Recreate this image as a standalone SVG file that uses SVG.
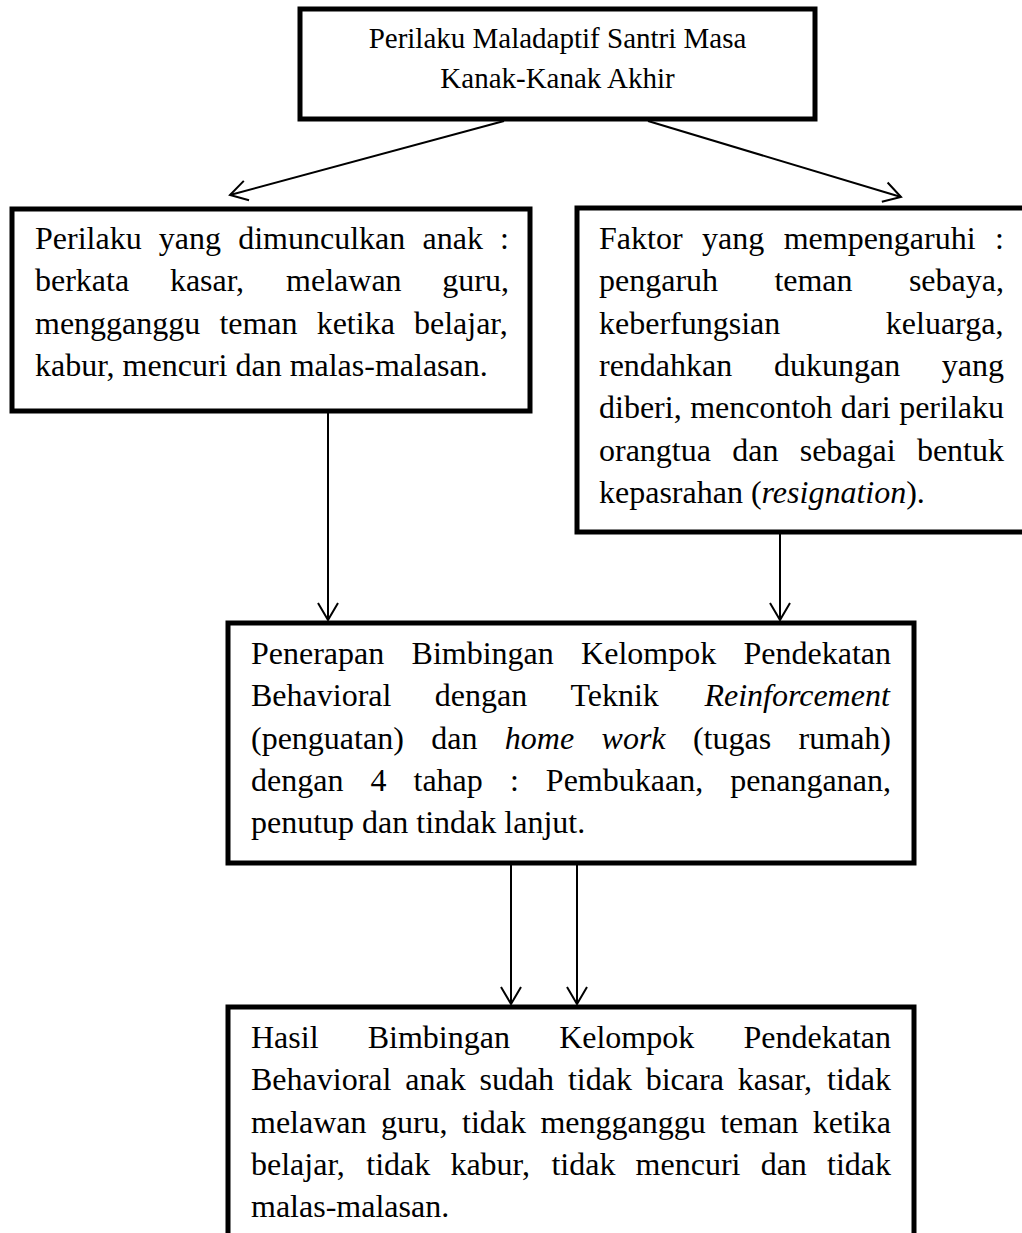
<svg xmlns="http://www.w3.org/2000/svg" width="1022" height="1233" viewBox="0 0 1022 1233">
<style>
.box{fill:#fff;stroke:#000;stroke-width:5}
.t{font-family:"Liberation Serif","Times New Roman",serif;font-size:32px;fill:#000}
.tt{font-family:"Liberation Serif","Times New Roman",serif;font-size:29px;fill:#000}
.i{font-style:italic}
.c{fill:none;stroke:#000;stroke-width:2}
</style>
<defs>
<marker id="ah" viewBox="-20 -12 24 24" markerWidth="24" markerHeight="24" refX="0" refY="0" markerUnits="userSpaceOnUse" orient="auto" overflow="visible">
<path d="M-17,-10 L0,0 L-17,10" fill="none" stroke="#000" stroke-width="2"/>
</marker>
</defs>
<rect width="1022" height="1233" fill="#fff"/>
<g id="connectors">
<line class="c" x1="504" y1="121" x2="230" y2="195" marker-end="url(#ah)"/>
<line class="c" x1="648" y1="121" x2="901" y2="197" marker-end="url(#ah)"/>
<line class="c" x1="328" y1="413" x2="328" y2="620" marker-end="url(#ah)"/>
<line class="c" x1="780" y1="534" x2="780" y2="620" marker-end="url(#ah)"/>
<line class="c" x1="511" y1="865" x2="511" y2="1004" marker-end="url(#ah)"/>
<line class="c" x1="577" y1="865" x2="577" y2="1004" marker-end="url(#ah)"/>
</g>
<g id="node-top">
<rect class="box" x="300" y="9" width="515" height="110"/>
<text class="tt" x="557.5" y="47.5" text-anchor="middle">Perilaku Maladaptif Santri Masa</text>
<text class="tt" x="557.5" y="88" text-anchor="middle">Kanak-Kanak Akhir</text>
</g>
<g id="node-left">
<rect class="box" x="12" y="209" width="518" height="202"/>
<text class="t" y="249"><tspan x="35">Perilaku</tspan><tspan x="158.84">yang</tspan><tspan x="238.23">dimunculkan</tspan><tspan x="422.51">anak</tspan><tspan x="500.11">:</tspan></text>
<text class="t" y="291.3"><tspan x="35">berkata</tspan><tspan x="169.89">kasar,</tspan><tspan x="286.12">melawan</tspan><tspan x="442.35">guru,</tspan></text>
<text class="t" y="333.6"><tspan x="35">mengganggu</tspan><tspan x="219.38">teman</tspan><tspan x="316.66">ketika</tspan><tspan x="413.94">belajar,</tspan></text>
<text class="t" x="35" y="375.9">kabur, mencuri dan malas-malasan.</text>
</g>
<g id="node-right">
<rect class="box" x="577" y="208" width="450" height="324"/>
<text class="t" y="249"><tspan x="599">Faktor</tspan><tspan x="702.01">yang</tspan><tspan x="783.68">mempengaruhi</tspan><tspan x="995.11">:</tspan></text>
<text class="t" y="291.3"><tspan x="599">pengaruh</tspan><tspan x="774.39">teman</tspan><tspan x="908.92">sebaya,</tspan></text>
<text class="t" y="333.6"><tspan x="599">keberfungsian</tspan><tspan x="885.82">keluarga,</tspan></text>
<text class="t" y="375.9"><tspan x="599">rendahkan</tspan><tspan x="773.93">dukungan</tspan><tspan x="941.79">yang</tspan></text>
<text class="t" y="418.2"><tspan x="599">diberi,</tspan><tspan x="690.16">mencontoh</tspan><tspan x="840.87">dari</tspan><tspan x="899.14">perilaku</tspan></text>
<text class="t" y="460.5"><tspan x="599">orangtua</tspan><tspan x="732.22">dan</tspan><tspan x="799.68">sebagai</tspan><tspan x="916.9">bentuk</tspan></text>
<text class="t" x="599" y="502.8">kepasrahan (<tspan class="i">resignation</tspan>).</text>
</g>
<g id="node-middle">
<rect class="box" x="228" y="623" width="686" height="240"/>
<text class="t" y="664"><tspan x="251">Penerapan</tspan><tspan x="411.57">Bimbingan</tspan><tspan x="581.1">Kelompok</tspan><tspan x="743.48">Pendekatan</tspan></text>
<text class="t" y="706.3"><tspan x="251">Behavioral</tspan><tspan x="434.72">dengan</tspan><tspan x="570.44">Teknik</tspan><tspan x="704.38" class="i">Reinforcement</tspan></text>
<text class="t" y="748.6"><tspan x="251">(penguatan)</tspan><tspan x="431.23">dan</tspan><tspan x="504.84" class="i">home</tspan><tspan x="601.55" class="i">work</tspan><tspan x="692.95">(tugas</tspan><tspan x="798.58">rumah)</tspan></text>
<text class="t" y="790.9"><tspan x="251">dengan</tspan><tspan x="370.47">4</tspan><tspan x="413.52">tahap</tspan><tspan x="509.88">:</tspan><tspan x="545.83">Pembukaan,</tspan><tspan x="730.17">penanganan,</tspan></text>
<text class="t" x="251" y="833.2">penutup dan tindak lanjut.</text>
</g>
<g id="node-bottom">
<rect class="box" x="228" y="1007" width="686" height="260"/>
<text class="t" y="1048"><tspan x="251">Hasil</tspan><tspan x="367.74">Bimbingan</tspan><tspan x="559.17">Kelompok</tspan><tspan x="743.48">Pendekatan</tspan></text>
<text class="t" y="1090.3"><tspan x="251">Behavioral</tspan><tspan x="405.22">anak</tspan><tspan x="479.44">sudah</tspan><tspan x="567.9">tidak</tspan><tspan x="645.7">bicara</tspan><tspan x="737.68">kasar,</tspan><tspan x="827">tidak</tspan></text>
<text class="t" y="1132.6"><tspan x="251">melawan</tspan><tspan x="380.94">guru,</tspan><tspan x="462.02">tidak</tspan><tspan x="540.44">mengganggu</tspan><tspan x="720.17">teman</tspan><tspan x="812.79">ketika</tspan></text>
<text class="t" y="1174.9"><tspan x="251">belajar,</tspan><tspan x="366.24">tidak</tspan><tspan x="450.41">kabur,</tspan><tspan x="551.44">tidak</tspan><tspan x="635.61">mencuri</tspan><tspan x="760.64">dan</tspan><tspan x="827">tidak</tspan></text>
<text class="t" x="251" y="1217.2">malas-malasan.</text>
</g>
</svg>
